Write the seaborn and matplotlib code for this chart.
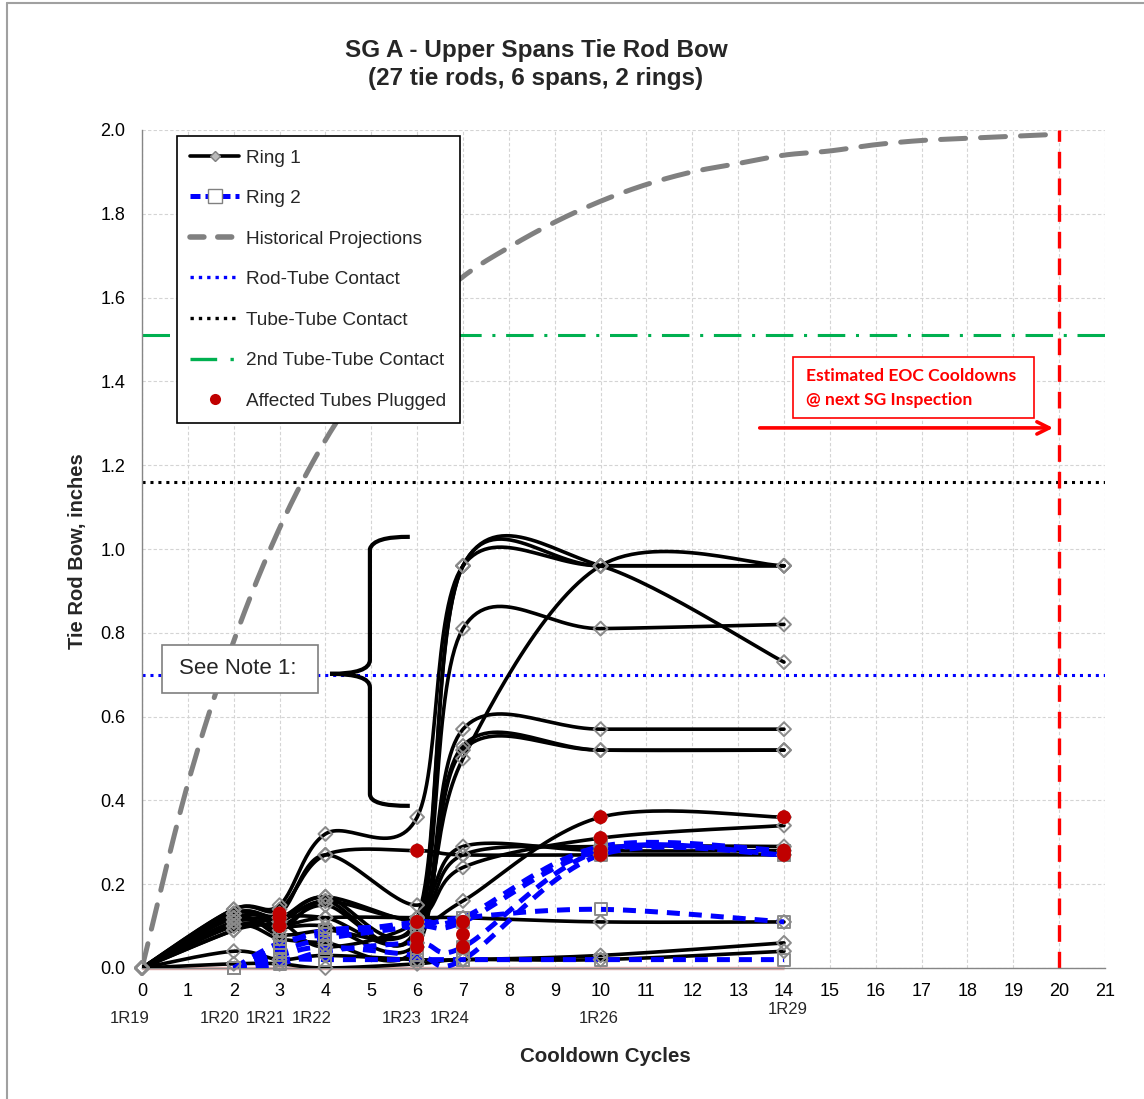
import numpy as np
import pandas as pd
import matplotlib
matplotlib.use("Agg")
import matplotlib.pyplot as plt
from matplotlib.lines import Line2D
from matplotlib.patches import Rectangle, PathPatch
from matplotlib.path import Path
import seaborn as sns

# ---------------- data ----------------
cycles_r1 = [0, 2, 3, 4, 6, 7, 10, 14]
cycles_r2 = [2, 3, 4, 6, 7, 10, 14]

ring1 = [
    [0, 0.14, 0.15, 0.32, 0.36, 0.96, 0.96, 0.96],
    [0, 0.13, 0.12, 0.17, 0.12, 0.96, 0.96, 0.73],
    [0, 0.12, 0.09, 0.16, 0.10, 0.96, 0.96, 0.96],
    [0, 0.11, 0.10, 0.15, 0.09, 0.81, 0.81, 0.82],
    [0, 0.09, 0.12, 0.12, 0.08, 0.57, 0.57, 0.57],
    [0, 0.13, 0.10, 0.10, 0.06, 0.52, 0.52, 0.52],
    [0, 0.10, 0.07, 0.06, 0.05, 0.53, 0.52, 0.52],
    [0, 0.12, 0.08, 0.09, 0.10, 0.50, 0.96, 0.96],
    [0, 0.14, 0.14, 0.27, 0.28, 0.27, 0.27, 0.27],
    [0, 0.13, 0.13, 0.27, 0.15, 0.29, 0.28, 0.28],
    [0, 0.11, 0.12, 0.17, 0.11, 0.16, 0.36, 0.36],
    [0, 0.09, 0.11, 0.16, 0.12, 0.24, 0.31, 0.34],
    [0, 0.10, 0.10, 0.12, 0.12, 0.12, 0.11, 0.11],
    [0, 0.04, 0.02, 0.03, 0.02, 0.02, 0.03, 0.06],
    [0, 0.01, 0.01, 0.00, 0.01, 0.02, 0.02, 0.04],
    [0, 0.12, 0.11, 0.05, 0.11, 0.27, 0.29, 0.29],
]

ring2 = [
    [0.00, 0.06, 0.08, 0.11, 0.12, 0.29, 0.28],
    [0.00, 0.03, 0.05, 0.03, 0.02, 0.27, 0.27],
    [0.00, 0.02, 0.02, 0.02, 0.02, 0.02, 0.02],
    [0.00, 0.04, 0.07, 0.10, 0.12, 0.14, 0.11],
    [0.00, 0.05, 0.09, 0.10, 0.11, 0.28, 0.28],
    [0.00, 0.01, 0.04, 0.06, 0.05, 0.28, 0.27],
]

plugged_x = [3, 3, 3, 6, 6, 6, 6, 7, 7, 7, 10, 10, 10, 10, 14, 14, 14]
plugged_y = [0.13, 0.12, 0.10, 0.28, 0.11, 0.07, 0.05, 0.11, 0.08, 0.05,
             0.36, 0.31, 0.28, 0.27, 0.36, 0.28, 0.27]

hist_x = list(range(0, 21))
hist_y = [0, 0.44, 0.78, 1.05, 1.26, 1.42, 1.55, 1.65, 1.72, 1.78, 1.83,
          1.87, 1.90, 1.92, 1.94, 1.95, 1.965, 1.975, 1.98, 1.985, 1.99]

rod_tube = 0.70
tube_tube = 1.16
tube_tube_2 = 1.51
eoc_cycle = 20

outage_labels = ["1R19", "1R20", "1R21", "1R22", "1R23", "1R24", "1R26", "1R29"]
outage_cycles = [0, 2, 3, 4, 6, 7, 10, 14]

title_1 = "SG A - Upper Spans Tie Rod Bow"
title_2 = "(27 tie rods, 6 spans, 2 rings)"

# ---------------- helpers ----------------
def smooth(xs, ys, n=30):
    P = np.column_stack([xs, ys]).astype(float)
    m = len(P)
    out = []
    t = np.linspace(0, 1, n)[:, None]
    for i in range(m - 1):
        p0 = P[i - 1] if i > 0 else P[i]
        p1, p2 = P[i], P[i + 1]
        p3 = P[i + 2] if i + 2 < m else P[i + 1]
        c1 = p1 + (p2 - p0) / 6.0
        c2 = p2 - (p3 - p1) / 6.0
        seg = (1 - t) ** 3 * p1 + 3 * (1 - t) ** 2 * t * c1 + 3 * (1 - t) * t ** 2 * c2 + t ** 3 * p2
        out.append(seg if i == 0 else seg[1:])
    return np.vstack(out)

def long_frame(xs, series):
    rows = []
    for k, ys in enumerate(series):
        s = smooth(xs, ys)
        for j, (a, b) in enumerate(s):
            rows.append((k, j, a, b))
    return pd.DataFrame(rows, columns=["sid", "order", "x", "y"])

def point_frame(xs, series):
    rows = []
    for k, ys in enumerate(series):
        for a, b in zip(xs, ys):
            rows.append((k, a, b))
    return pd.DataFrame(rows, columns=["sid", "x", "y"])

# ---------------- figure ----------------
sns.set_style("white")
plt.rcParams["font.family"] = ["Liberation Sans", "DejaVu Sans"]

fig = plt.figure(figsize=(11.44, 10.99), dpi=100)
ax = fig.add_axes([142 / 1144, 1 - 968 / 1099, (1105 - 142) / 1144, (968 - 130) / 1099])

# historical projection
hs = smooth(hist_x, hist_y)
sns.lineplot(x=hs[:, 0], y=hs[:, 1], sort=False, estimator=None, ax=ax, color="#808080",
             lw=3.6, linestyle=(0, (5, 3)), dash_capstyle="round", zorder=3)

# reference lines
ax.axhline(rod_tube, color="#0000ff", lw=2.2, linestyle=(0, (1, 1.6)), zorder=2)
ax.axhline(tube_tube, color="black", lw=2.2, linestyle=(0, (1, 1.6)), zorder=2)
ax.axhline(tube_tube_2, color="#00b050", lw=2.2, linestyle=(0, (9, 3.5, 1, 3.5)), zorder=2)
ax.axvline(eoc_cycle, ymin=0, ymax=1, color="#ff0000", lw=2.4, linestyle=(0, (5, 3)), zorder=2)
ax.hlines(0, 0, 14, color="#e6b0b0", lw=2.5, zorder=2, clip_on=False)

# ring 1
df1 = long_frame(cycles_r1, ring1)
sns.lineplot(data=df1, x="x", y="y", units="sid", estimator=None, sort=False, ax=ax,
             color="black", lw=2.6, legend=False, zorder=4)
p1 = point_frame(cycles_r1, ring1)
sns.scatterplot(data=p1, x="x", y="y", ax=ax, marker="D", s=50, legend=False, zorder=6)
c = ax.collections[-1]
c.set_facecolor("none"); c.set_edgecolor("#8a8a8a"); c.set_linewidth(1.4); c.set_clip_on(False)

# ring 2
df2 = long_frame(cycles_r2, ring2)
sns.lineplot(data=df2, x="x", y="y", units="sid", estimator=None, sort=False, ax=ax,
             color="#0000ff", lw=3.6, linestyle=(0, (2.6, 1.8)), legend=False, zorder=5)
p2 = point_frame(cycles_r2, ring2)
sns.scatterplot(data=p2, x="x", y="y", ax=ax, marker="s", s=75, legend=False, zorder=6)
c = ax.collections[-1]
c.set_facecolor("none"); c.set_edgecolor("#8a8a8a"); c.set_linewidth(1.4); c.set_clip_on(False)

# plugged tubes
sns.scatterplot(x=plugged_x, y=plugged_y, ax=ax, color="#c00000", s=100, edgecolor="none",
                legend=False, zorder=7)

# axes styling (after seaborn calls so labels stay empty)
ax.set_xlim(0, 21)
ax.set_ylim(0, 2.0)
ax.set_xticks(range(0, 22))
ax.set_yticks(np.arange(0, 2.01, 0.2))
ax.set_yticklabels([f"{v:.1f}" for v in np.arange(0, 2.01, 0.2)])
ax.grid(True, color="#d4d4d4", linestyle=(0, (3, 2)), lw=0.8)
ax.set_axisbelow(True)
for s in ["top", "right"]:
    ax.spines[s].set_visible(False)
for s in ["left", "bottom"]:
    ax.spines[s].set_color("#868686")
    ax.spines[s].set_linewidth(1.0)
ax.tick_params(axis="both", direction="out", length=5, width=1, color="#868686",
               labelsize=13, labelcolor="black")
ax.tick_params(axis="x", pad=6)
ax.tick_params(axis="y", pad=7)
ax.set_xlabel("")
ax.set_ylabel("")

# ---------------- annotations ----------------
# See Note 1 box
ax.add_patch(Rectangle((0.436, 0.656), 3.40, 0.115, facecolor="white", edgecolor="#7f7f7f",
                       lw=1.2, zorder=8))
ax.text(2.09, 0.714, "See Note 1:", ha="center", va="center", fontsize=16, zorder=9)

# curly brace
verts = [(5.84, 1.029), (5.05, 1.030), (4.97, 1.000),
         (4.97, 0.735), (4.97, 0.702), (4.10, 0.702),
         (4.97, 0.702), (4.97, 0.670),
         (4.97, 0.415), (4.97, 0.386), (5.84, 0.387)]
codes = [Path.MOVETO, Path.CURVE3, Path.CURVE3,
         Path.LINETO, Path.CURVE3, Path.CURVE3,
         Path.CURVE3, Path.CURVE3,
         Path.LINETO, Path.CURVE3, Path.CURVE3]
ax.add_patch(PathPatch(Path(verts, codes), facecolor="none", edgecolor="black", lw=3.0,
                       zorder=8, capstyle="butt"))

# EOC box and arrow
ax.add_patch(Rectangle((14.2, 1.313), 5.25, 0.146, facecolor="white", edgecolor="#ff0000",
                       lw=1.2, zorder=8))
ax.text(14.48, 1.413, "Estimated EOC Cooldowns", ha="left", va="center", fontsize=12.6,
        color="#ff0000", fontweight="bold", family=["Lato", "DejaVu Sans"], zorder=9)
ax.text(14.48, 1.356, "@ next SG Inspection", ha="left", va="center", fontsize=12.6,
        color="#ff0000", fontweight="bold", family=["Lato", "DejaVu Sans"], zorder=9)
ax.annotate("", xy=(19.93, 1.289), xytext=(13.41, 1.289),
            arrowprops=dict(arrowstyle="->", color="#ff0000", lw=2.6, mutation_scale=22),
            zorder=9)

# outage labels (second row under x axis)
label_shift = [-0.26, -0.31, -0.30, -0.29, -0.33, -0.28, -0.04, 0.09]
label_row = [-0.0597, -0.0597, -0.0597, -0.0597, -0.0597, -0.0597, -0.0597, -0.050]
for lab, cx, dx, ry in zip(outage_labels, outage_cycles, label_shift, label_row):
    ax.text(cx + dx, ry, lab, ha="center", va="center", fontsize=12,
            transform=ax.get_xaxis_transform(), clip_on=False)

# legend
handles = [
    Line2D([], [], color="black", lw=2.6, marker="D", ms=5, mfc="#bbbbbb", mec="#808080"),
    Line2D([], [], color="#0000ff", lw=3.6, linestyle=(0, (2, 1)), marker="s", ms=10,
           mfc="white", mec="#808080"),
    Line2D([], [], color="#808080", lw=4, linestyle=(0, (2.5, 2.5)), dash_capstyle="round"),
    Line2D([], [], color="#0000ff", lw=2.4, linestyle=(0, (1, 1.5))),
    Line2D([], [], color="black", lw=2.4, linestyle=(0, (1, 1.5))),
    Line2D([], [], color="#00b050", lw=2.4, linestyle=(0, (8, 4, 1, 3))),
    Line2D([], [], color="#c00000", lw=0, marker="o", ms=8, mec="none"),
]
labels = ["Ring 1", "Ring 2", "Historical Projections", "Rod-Tube Contact",
          "Tube-Tube Contact", "2nd Tube-Tube Contact", "Affected Tubes Plugged"]
leg = ax.legend(handles, labels, loc="upper left", bbox_to_anchor=(0.036, 0.993),
                fontsize=13.7, frameon=True, fancybox=False, framealpha=1,
                edgecolor="black", handlelength=2.6, handletextpad=0.35,
                labelspacing=1.22, borderpad=0.7, borderaxespad=0, numpoints=1)
leg.get_frame().set_linewidth(1.2)
leg.set_zorder(10)

# titles and axis labels
fig.text(536 / 1144, 1 - 50 / 1099, title_1, ha="center", va="center", fontsize=17.5,
         fontweight="bold")
fig.text(536 / 1144, 1 - 78 / 1099, title_2, ha="center", va="center", fontsize=17.5,
         fontweight="bold")
fig.text(78 / 1144, 1 - 551 / 1099, "Tie Rod Bow, inches", rotation=90, ha="center",
         va="center", fontsize=14.5, fontweight="bold")
fig.text(605 / 1144, 1 - 1057 / 1099, "Cooldown Cycles", ha="center", va="center",
         fontsize=14.8, fontweight="bold")

# outer chart border
fig.add_artist(Line2D([7 / 1144, 1.0], [1 - 3 / 1099, 1 - 3 / 1099], color="#a0a0a0", lw=1.5,
                      transform=fig.transFigure))
fig.add_artist(Line2D([7 / 1144, 7 / 1144], [1 - 3 / 1099, 0.0], color="#a0a0a0", lw=1.5,
                      transform=fig.transFigure))

fig.savefig("out.png", dpi=100)
